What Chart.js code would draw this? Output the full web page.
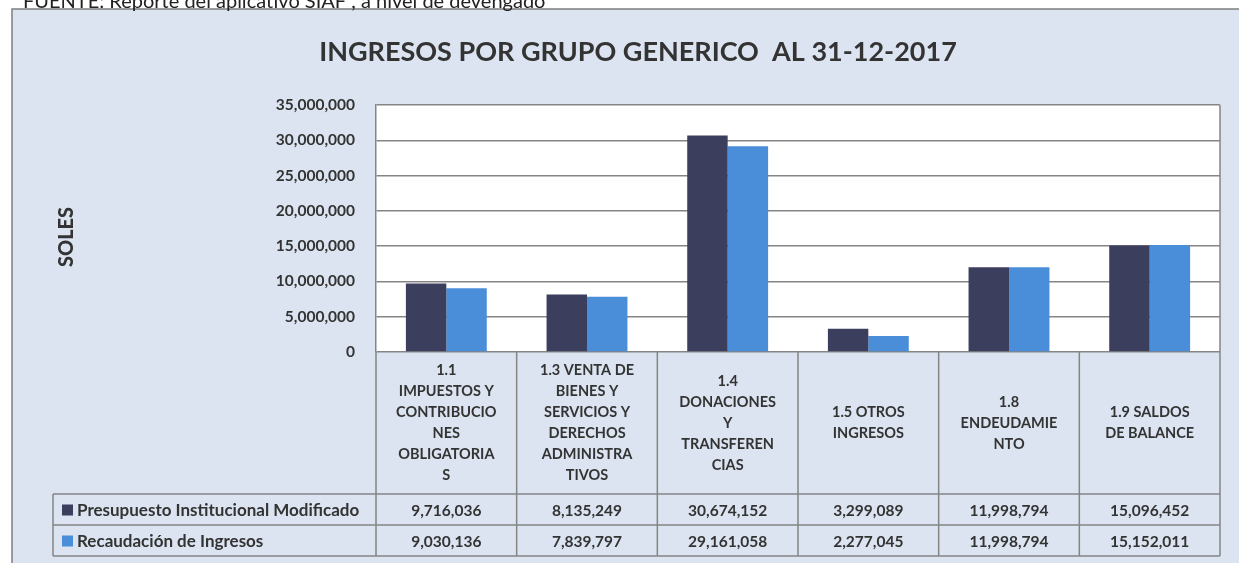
<!DOCTYPE html>
<html lang="es">
<head>
<meta charset="UTF-8">
<title>Ingresos por grupo generico al 31-12-2017</title>
<script src="https://cdn.jsdelivr.net/npm/chart.js"></script>
<style>
    html, body { margin: 0; padding: 0; background: #fff; }
    #wrap { width: 1239px; height: 563px; position: relative; }
</style>
</head>
<body>
<div id="wrap"><canvas id="chart" width="1239" height="563"></canvas></div>
<script>
    // category labels, wrapped the way the original sheet wraps them
    const categorias = [
        ['1.1', 'IMPUESTOS Y', 'CONTRIBUCIO', 'NES', 'OBLIGATORIA', 'S'],
        ['1.3 VENTA DE', 'BIENES Y', 'SERVICIOS Y', 'DERECHOS', 'ADMINISTRA', 'TIVOS'],
        ['1.4', 'DONACIONES', 'Y', 'TRANSFEREN', 'CIAS'],
        ['1.5 OTROS', 'INGRESOS'],
        ['1.8', 'ENDEUDAMIE', 'NTO'],
        ['1.9 SALDOS', 'DE BALANCE']
    ];
    const presupuesto = [9716036, 8135249, 30674152, 3299089, 11998794, 15096452];
    const recaudacion = [9030136, 7839797, 29161058, 2277045, 11998794, 15152011];
    const nombresSeries = ['Presupuesto Institucional Modificado', 'Recaudación de Ingresos'];
    const coloresSeries = ['#3b3e5d', '#4a8dd8'];
    const yMin = 0, yMax = 35000000, yPaso = 5000000;

    const titulo = 'INGRESOS POR GRUPO GENERICO  AL 31-12-2017';
    const fuente = 'FUENTE: Reporte del aplicativo SIAF , a nivel de devengado';
    const tituloEje = 'SOLES';

    const FONT = 'Lato, "Open Sans", sans-serif';
    const TXT = '#333333';
    const LINEA = '#858585';
    const fmt = v => v.toLocaleString('en-US');

    // frame, background and plot fill
    const fondo = {
        id: 'fondo',
        beforeDraw(chart) {
            const c = chart.ctx, a = chart.chartArea;
            c.save();
            c.fillStyle = '#fff';
            c.fillRect(0, 0, chart.width, chart.height);
            c.fillStyle = '#dbe4f0';
            c.fillRect(12, 9, chart.width, chart.height);
            c.strokeStyle = '#7f7f7f';
            c.lineWidth = 1.5;
            c.strokeRect(12, 9, chart.width + 20, chart.height + 20);
            c.fillStyle = '#fff';
            c.fillRect(a.left, a.top, a.right - a.left, a.bottom - a.top);
            // source line, cut by the top edge
            c.fillStyle = '#222';
            c.font = '20px ' + FONT;
            c.textBaseline = 'alphabetic';
            c.fillText(fuente, 23, 8);
            c.restore();
        }
    };

    // title, axis title, data table below the plot
    const tabla = {
        id: 'tabla',
        afterDraw(chart) {
            const c = chart.ctx, a = chart.chartArea, x = chart.scales.x;
            const n = chart.data.labels.length;
            const w = (a.right - a.left) / n;
            const hdrBot = 494, r1 = 525, r2 = 556, legL = 53;
            c.save();

            c.fillStyle = TXT;
            c.font = 'bold 27px ' + FONT;
            c.textAlign = 'center';
            c.textBaseline = 'middle';
            c.fillText(titulo, 638, 52);

            c.save();
            c.translate(67, 237);
            c.rotate(-Math.PI / 2);
            c.font = '900 20px ' + FONT;
            c.fillText(tituloEje, 0, 0);
            c.restore();

            c.strokeStyle = LINEA;
            c.lineWidth = 1.5;
            c.beginPath();
            // right edge of the plot
            c.moveTo(a.right, a.top); c.lineTo(a.right, r2);
            c.moveTo(a.left, a.bottom); c.lineTo(a.left, r2);
            for (let i = 0; i < n; i++) {
                const xr = x.getPixelForValue(i) + w / 2;
                c.moveTo(xr, a.bottom); c.lineTo(xr, r2);
            }
            [hdrBot, r1, r2].forEach(y => { c.moveTo(legL, y); c.lineTo(a.right, y); });
            c.moveTo(legL, hdrBot); c.lineTo(legL, r2);
            c.stroke();

            // category headers, centred in their cells
            c.font = 'bold 14.5px ' + FONT;
            const lh = 21;
            chart.data.labels.forEach((lab, i) => {
                const cx = x.getPixelForValue(i);
                const cy = (a.bottom + hdrBot) / 2;
                const y0 = cy - (lab.length - 1) * lh / 2;
                lab.forEach((t, k) => c.fillText(t, cx, y0 + k * lh));
            });

            // data rows
            const filas = [(hdrBot + r1) / 2, (r1 + r2) / 2];
            chart.data.datasets.forEach((ds, d) => {
                const y = filas[d];
                c.fillStyle = ds.backgroundColor;
                c.fillRect(62, y - 5, 11, 11);
                c.fillStyle = TXT;
                c.textAlign = 'left';
                c.font = 'bold 17px ' + FONT;
                c.fillText(ds.label, 77, y + 1);
                c.textAlign = 'center';
                c.font = 'bold 15.5px ' + FONT;
                ds.data.forEach((v, i) => c.fillText(fmt(v), x.getPixelForValue(i), y + 1));
            });
            c.restore();
        }
    };

    new Chart(document.getElementById('chart'), {
        type: 'bar',
        data: {
            labels: categorias,
            datasets: [
                { label: nombresSeries[0], data: presupuesto, backgroundColor: coloresSeries[0] },
                { label: nombresSeries[1], data: recaudacion, backgroundColor: coloresSeries[1] }
            ]
        },
        options: {
            responsive: false,
            animation: false,
            devicePixelRatio: 1,
            layout: { padding: { left: 0, top: 105, right: 19, bottom: 211 } },
            datasets: { bar: { categoryPercentage: 0.575, barPercentage: 1 } },
            plugins: { legend: { display: false }, tooltip: { enabled: false }, title: { display: false } },
            scales: {
                x: { display: false },
                y: {
                    min: yMin, max: yMax,
                    afterFit: s => { s.width = 376; },
                    ticks: {
                        stepSize: yPaso,
                        padding: 21,
                        color: TXT,
                        font: { family: FONT, size: 15.5, weight: 'bold' },
                        callback: v => fmt(v)
                    },
                    grid: { color: LINEA, lineWidth: 1.5, drawTicks: false },
                    border: { color: LINEA, width: 1.5 }
                }
            }
        },
        plugins: [fondo, tabla]
    });
</script>
</body>
</html>
